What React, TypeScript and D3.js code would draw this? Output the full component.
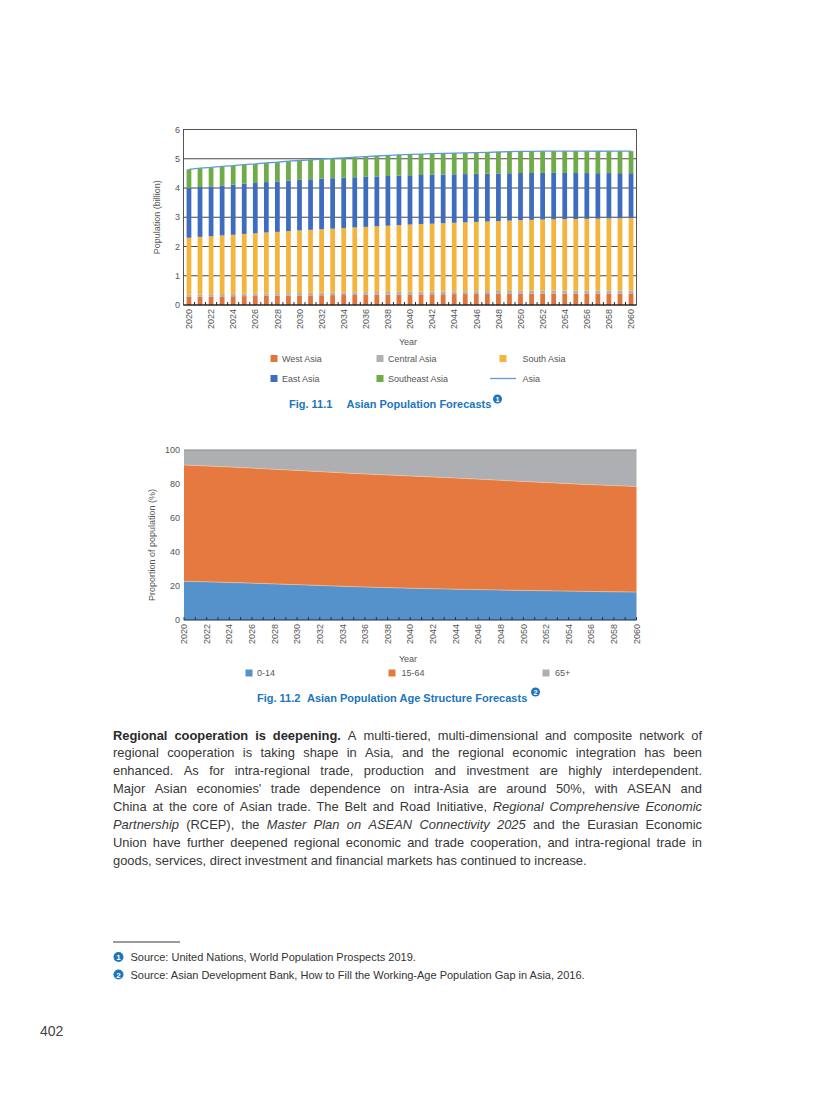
import React from 'react';
import * as d3 from 'd3';

// ---------- Data: Fig. 11.1 (billion) ----------
const years: number[] = d3.range(2020, 2061);
const westAsia = [0.280,0.285,0.290,0.295,0.300,0.304,0.309,0.313,0.318,0.322,0.326,0.330,0.334,0.338,0.342,0.345,0.349,0.352,0.355,0.358,0.361,0.364,0.367,0.369,0.372,0.374,0.376,0.378,0.380,0.382,0.384,0.386,0.387,0.389,0.390,0.391,0.392,0.393,0.394,0.395,0.396];
const centralAsia = [0.075,0.076,0.077,0.078,0.079,0.080,0.081,0.082,0.083,0.084,0.085,0.086,0.087,0.088,0.088,0.089,0.090,0.091,0.091,0.092,0.093,0.093,0.094,0.095,0.095,0.096,0.097,0.097,0.098,0.098,0.099,0.099,0.100,0.100,0.101,0.101,0.102,0.102,0.102,0.103,0.103];
const southAsia = [1.945,1.969,1.983,2.007,2.021,2.046,2.060,2.085,2.099,2.124,2.139,2.154,2.169,2.184,2.200,2.216,2.231,2.247,2.264,2.280,2.296,2.308,2.319,2.331,2.343,2.355,2.367,2.380,2.392,2.405,2.417,2.425,2.433,2.441,2.444,2.448,2.451,2.455,2.464,2.467,2.471];
const eastAsia = [1.700,1.704,1.708,1.711,1.714,1.717,1.720,1.722,1.724,1.726,1.727,1.727,1.726,1.724,1.721,1.717,1.712,1.706,1.700,1.693,1.686,1.679,1.672,1.665,1.658,1.651,1.644,1.636,1.628,1.620,1.612,1.604,1.596,1.588,1.580,1.572,1.565,1.557,1.550,1.543,1.536];
const southeastAsia = [0.640,0.643,0.645,0.647,0.649,0.651,0.653,0.655,0.657,0.660,0.663,0.667,0.672,0.677,0.682,0.687,0.692,0.698,0.703,0.708,0.714,0.717,0.720,0.722,0.724,0.726,0.728,0.730,0.733,0.736,0.738,0.740,0.742,0.744,0.745,0.747,0.749,0.750,0.751,0.753,0.754];
const popTicks = [0, 1, 2, 3, 4, 5, 6];

// ---------- Data: Fig. 11.2 (%) ----------
const ageYears = [2020, 2025, 2030, 2035, 2040, 2045, 2050, 2055, 2060];
const age0to14 = [22.8, 21.9, 20.8, 19.6, 18.7, 18.0, 17.4, 16.9, 16.4];
const age15to64 = [68.4, 67.8, 67.2, 66.6, 66.0, 65.2, 64.1, 63.0, 62.1];
const age65plus = [8.8, 10.3, 12.0, 13.8, 15.3, 16.8, 18.5, 20.1, 21.5];
const pctTicks = [0, 20, 40, 60, 80, 100];

const FONT = '"Liberation Sans", Arial, Helvetica, sans-serif';
const BLUE = '#2175bd';

let _ctx: CanvasRenderingContext2D | null = null;
function measure(text: string, font: string): number {
  if (!_ctx) _ctx = document.createElement('canvas').getContext('2d');
  if (!_ctx) return text.length * 6;
  _ctx.font = font;
  return _ctx.measureText(text).width;
}

type Seg = { t: string; b?: boolean; i?: boolean };
const paragraph: Seg[][] = [
  [{ t: 'Regional cooperation is deepening.', b: true }, { t: 'A multi-tiered, multi-dimensional and composite network of' }],
  [{ t: 'regional cooperation is taking shape in Asia, and the regional economic integration has been' }],
  [{ t: 'enhanced. As for intra-regional trade, production and investment are highly interdependent.' }],
  [{ t: "Major Asian economies' trade dependence on intra-Asia are around 50%, with ASEAN and" }],
  [{ t: 'China at the core of Asian trade. The Belt and Road Initiative,' }, { t: 'Regional Comprehensive Economic', i: true }],
  [{ t: 'Partnership', i: true }, { t: '(RCEP), the' }, { t: 'Master Plan on ASEAN Connectivity 2025', i: true }, { t: 'and the Eurasian Economic' }],
  [{ t: 'Union have further deepened regional economic and trade cooperation, and intra-regional trade in' }],
  [{ t: 'goods, services, direct investment and financial markets has continued to increase.' }],
];

function Paragraph() {
  const x0 = 113, x1 = 702, y0 = 739.5, lh = 17.9, size = 12.9;
  const out: React.ReactNode[] = [];
  paragraph.forEach((line, li) => {
    const words: { w: string; b?: boolean; i?: boolean; width: number }[] = [];
    line.forEach(seg => seg.t.split(' ').forEach(w => {
      const font = `${seg.i ? 'italic ' : ''}${seg.b ? 'bold ' : ''}${size}px ${FONT}`;
      words.push({ w, b: seg.b, i: seg.i, width: measure(w, font) });
    }));
    const sum = d3.sum(words, d => d.width);
    const last = li === paragraph.length - 1;
    const sp = measure(' ', `${size}px ${FONT}`);
    const gap = last ? sp : Math.max(1.5, (x1 - x0 - sum) / (words.length - 1));
    let x = x0;
    words.forEach((wd, wi) => {
      out.push(
        <text key={`${li}-${wi}`} x={x} y={y0 + li * lh} fontSize={size}
          fontWeight={wd.b ? 'bold' : 'normal'} fontStyle={wd.i ? 'italic' : 'normal'}
          fill={wd.b ? '#2a2a2a' : '#383838'}>{wd.w}</text>
      );
      x += wd.width + gap;
    });
  });
  return <g fontFamily={FONT}>{out}</g>;
}

function NoteCircle({ cx, cy, n, r = 5 }: { cx: number; cy: number; n: number; r?: number }) {
  return (
    <g>
      <circle cx={cx} cy={cy} r={r} fill={BLUE} />
      <text x={cx} y={cy + r * 0.62} textAnchor="middle" fontSize={r * 1.6} fontWeight="bold" fill="#fff" fontFamily={FONT}>{n}</text>
    </g>
  );
}

function Chart1() {
  const L = 183.5, R = 636.5, T = 129.5, B = 305;
  const x = d3.scaleBand<number>().domain(years).range([L, R]).paddingInner(0.57).paddingOuter(0.28);
  const y = d3.scaleLinear().domain([0, 6]).range([B, T]);
  const keys = ['west', 'central', 'south', 'east', 'southeast'];
  const colors: Record<string, string> = { west: '#e2763a', central: '#b3b0b0', south: '#f4b53f', east: '#3e6dbf', southeast: '#6fab46' };
  const rows = years.map((yr, i) => ({ year: yr, west: westAsia[i], central: centralAsia[i], south: southAsia[i], east: eastAsia[i], southeast: southeastAsia[i] }));
  const stack = d3.stack<any>().keys(keys)(rows);
  const totals = rows.map(r => keys.reduce((s, k) => s + (r as any)[k], 0));
  const line = d3.line<number>().x((_, i) => (x(years[i]) as number) + x.bandwidth() / 2).y(d => y(d));
  const step = x.step();
  const x0 = L + step * 0.28 - step * 0.57 / 2;
  return (
    <g fontFamily={FONT}>
      {popTicks.filter(t => t > 0 && t < 6).map(t => (
        <line key={t} x1={L} x2={R} y1={y(t)} y2={y(t)} stroke="#333" strokeWidth={0.9} />
      ))}
      {stack.map(s => (
        <g key={s.key} fill={colors[s.key]}>
          {s.map((d, i) => (
            <rect key={i} x={x(years[i])} width={x.bandwidth()} y={y(d[1])} height={y(d[0]) - y(d[1])} />
          ))}
        </g>
      ))}
      <path d={line(totals) || ''} fill="none" stroke="#5e9bd6" strokeWidth={1.3} />
      <rect x={L} y={T} width={R - L} height={B - T} fill="none" stroke="#444" strokeWidth={0.9} />
      <line x1={L} x2={R} y1={B} y2={B} stroke="#111" strokeWidth={1} />
      {d3.range(0, years.length + 1).map(i => {
        const tx = x0 + i * step;
        return tx > L + 1 && tx < R - 1 ? <line key={i} x1={tx} x2={tx} y1={B} y2={B - 3} stroke="#111" strokeWidth={0.9} /> : null;
      })}
      {popTicks.map(t => (
        <text key={t} x={180} y={y(t) + 3.2} textAnchor="end" fontSize={9} fill="#555">{t}</text>
      ))}
      {years.filter(yr => yr % 2 === 0).map(yr => {
        const cx = (x(yr) as number) + x.bandwidth() / 2 + 3.2;
        return <text key={yr} transform={`translate(${cx},309) rotate(-90)`} textAnchor="end" fontSize={9} fill="#555">{yr}</text>;
      })}
      <text transform={`translate(160,${(T + B) / 2}) rotate(-90)`} textAnchor="middle" fontSize={9} fill="#555">Population (billion)</text>
      <text x={408} y={344.5} textAnchor="middle" fontSize={9} fill="#555">Year</text>
      {/* legend */}
      {[
        { k: 'west', label: 'West Asia', sx: 270.5, tx: 282, yy: 358.5 },
        { k: 'central', label: 'Central Asia', sx: 376.5, tx: 388, yy: 358.5 },
        { k: 'south', label: 'South Asia', sx: 499.5, tx: 522.5, yy: 358.5 },
        { k: 'east', label: 'East Asia', sx: 270.5, tx: 282, yy: 378.5 },
        { k: 'southeast', label: 'Southeast Asia', sx: 376.5, tx: 388, yy: 378.5 },
      ].map(d => (
        <g key={d.k}>
          <rect x={d.sx} y={d.yy - 3.5} width={7} height={7} fill={colors[d.k]} />
          <text x={d.tx} y={d.yy + 3.2} fontSize={9} fill="#555">{d.label}</text>
        </g>
      ))}
      <line x1={490} x2={516} y1={378.5} y2={378.5} stroke="#5e9bd6" strokeWidth={1.3} />
      <text x={522.5} y={381.7} fontSize={9} fill="#555">Asia</text>
      <text x={289} y={408} fontSize={11} fontWeight="bold" fill={BLUE}>Fig. 11.1</text>
      <text x={346.5} y={408} fontSize={11} fontWeight="bold" fill={BLUE}>Asian Population Forecasts</text>
      <NoteCircle cx={497.5} cy={399} n={1} r={4.5} />
    </g>
  );
}

function Chart2() {
  const L = 184, R = 636.5, T = 450, B = 620;
  const x = d3.scaleLinear().domain([2020, 2060]).range([L, R]);
  const y = d3.scaleLinear().domain([0, 100]).range([B, T]);
  const keys = ['a', 'b', 'c'];
  const colors: Record<string, string> = { a: '#5591cb', b: '#e5793f', c: '#aeafb3' };
  const rows = ageYears.map((yr, i) => ({ year: yr, a: age0to14[i], b: age15to64[i], c: age65plus[i] }));
  const stack = d3.stack<any>().keys(keys)(rows);
  const area = d3.area<any>().x((_, i) => x(ageYears[i])).y0(d => y(d[0])).y1(d => y(Math.min(100, d[1])));
  const bound = d3.line<any>().x((_, i) => x(ageYears[i])).y(d => y(d[1]));
  return (
    <g fontFamily={FONT}>
      {stack.map(s => (
        <path key={s.key} d={area(s as any) || ''} fill={colors[s.key]} />
      ))}
      {stack.slice(0, 2).map(s => (
        <path key={'b' + s.key} d={bound(s as any) || ''} fill="none" stroke="#f2c6a6" strokeWidth={0.8} strokeOpacity={0.8} />
      ))}
      <line x1={L} x2={R} y1={T} y2={T} stroke="#8a8a8a" strokeWidth={1} />
      <line x1={L} x2={R} y1={B} y2={B} stroke="#1c2a3c" strokeWidth={1.1} />
      {years.map(yr => (
        <line key={yr} x1={x(yr)} x2={x(yr)} y1={B} y2={B - 3} stroke="#1c2a3c" strokeWidth={0.9} />
      ))}
      {pctTicks.map(t => (
        <text key={t} x={180} y={y(t) + 3.2} textAnchor="end" fontSize={9} fill="#555">{t}</text>
      ))}
      {years.filter(yr => yr % 2 === 0).map(yr => (
        <text key={yr} transform={`translate(${x(yr) + 3.2},624) rotate(-90)`} textAnchor="end" fontSize={9} fill="#555">{yr}</text>
      ))}
      <text transform={`translate(155,${(T + B) / 2 + 10}) rotate(-90)`} textAnchor="middle" fontSize={9} fill="#555">Proportion of population (%)</text>
      <text x={408} y={662} textAnchor="middle" fontSize={9} fill="#555">Year</text>
      {[
        { k: 'a', label: '0-14', sx: 245.5, tx: 257 },
        { k: 'b', label: '15-64', sx: 388.5, tx: 401.5 },
        { k: 'c', label: '65+', sx: 542.5, tx: 555 },
      ].map(d => (
        <g key={d.k}>
          <rect x={d.sx} y={669.5} width={7} height={7} fill={colors[d.k]} />
          <text x={d.tx} y={676.2} fontSize={9} fill="#555">{d.label}</text>
        </g>
      ))}
      <text x={257} y={701.5} fontSize={11} fontWeight="bold" fill={BLUE}>Fig. 11.2</text>
      <text x={307} y={701.5} fontSize={11} fontWeight="bold" fill={BLUE}>Asian Population Age Structure Forecasts</text>
      <NoteCircle cx={535.5} cy={692} n={2} r={4.5} />
    </g>
  );
}

export default function App() {
  return (
    <svg width={816} height={1100} viewBox="0 0 816 1100" style={{ position: 'absolute', left: 0, top: 0, background: '#fff' }}>
      <rect width={816} height={1100} fill="#fff" />
      <Chart1 />
      <Chart2 />
      <Paragraph />
      <line x1={113} x2={180} y1={942} y2={942} stroke="#222" strokeWidth={0.9} />
      <NoteCircle cx={118.5} cy={957} n={1} r={5} />
      <text x={130.5} y={961} fontSize={11} fill="#333" fontFamily={FONT}>Source: United Nations, World Population Prospects 2019.</text>
      <NoteCircle cx={118.5} cy={974.5} n={2} r={5} />
      <text x={130.5} y={978.5} fontSize={11} fill="#333" fontFamily={FONT}>Source: Asian Development Bank, How to Fill the Working-Age Population Gap in Asia, 2016.</text>
      <text x={40} y={1036} fontSize={14} fill="#444" fontFamily={FONT}>402</text>
    </svg>
  );
}
